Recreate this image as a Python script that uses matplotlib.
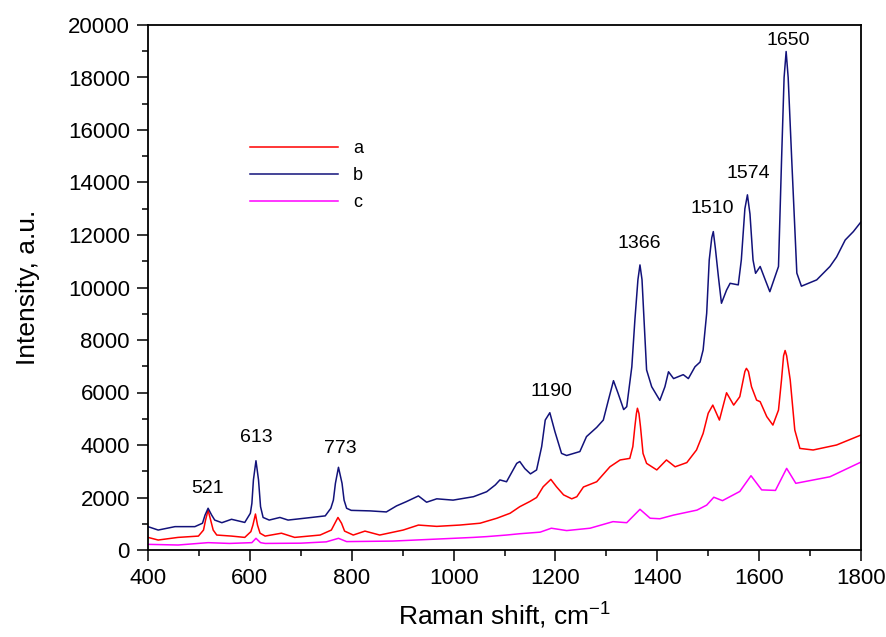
import matplotlib
matplotlib.use("Agg")
import matplotlib.pyplot as plt
from matplotlib.ticker import MultipleLocator

plt.rcParams['font.family'] = ['Liberation Sans', 'DejaVu Sans']
plt.rcParams['mathtext.fontset'] = 'custom'
plt.rcParams['mathtext.rm'] = 'Liberation Sans'

# (Raman shift, intensity)
spec_a = [(400, 480), (420, 380), (459, 480), (499, 530), (509, 760), (513, 1140),
          (518, 1520), (523, 1140), (528, 760), (535, 570), (564, 530), (590, 480),
          (602, 700), (606, 950), (611, 1370), (615, 950), (620, 640), (630, 530),
          (662, 640), (688, 480), (738, 570), (760, 760), (767, 1020), (773, 1240),
          (780, 1020), (786, 720), (803, 570), (826, 720), (855, 570), (901, 760),
          (931, 950), (967, 900), (1012, 950), (1052, 1020), (1085, 1210), (1111, 1400),
          (1130, 1650), (1150, 1850), (1163, 2000), (1176, 2410), (1191, 2690), (1202, 2410),
          (1216, 2100), (1232, 1950), (1242, 2030), (1255, 2400), (1281, 2600), (1307, 3170),
          (1327, 3430), (1346, 3490), (1352, 3940), (1356, 4700), (1359, 5200), (1361, 5400),
          (1364, 5200), (1367, 4700), (1372, 3680), (1379, 3300), (1399, 3050), (1418, 3430),
          (1435, 3170), (1458, 3330), (1477, 3810), (1490, 4440), (1500, 5210), (1509, 5520),
          (1522, 4950), (1536, 5990), (1550, 5520), (1562, 5840), (1572, 6800), (1575, 6920),
          (1579, 6800), (1585, 6220), (1595, 5710), (1602, 5650), (1615, 5080), (1627, 4760),
          (1638, 5330), (1644, 6500), (1648, 7400), (1651, 7600), (1654, 7400), (1661, 6480),
          (1670, 4570), (1680, 3870), (1706, 3810), (1752, 4000), (1800, 4380)]

spec_b = [(400, 890), (420, 760), (453, 890), (492, 890), (507, 1020), (512, 1330),
          (518, 1590), (525, 1330), (531, 1140), (545, 1040), (564, 1170), (590, 1050),
          (601, 1400), (604, 1780), (607, 2670), (612, 3400), (617, 2670), (621, 1650),
          (626, 1240), (638, 1140), (659, 1240), (675, 1140), (721, 1240), (748, 1300),
          (759, 1590), (764, 1900), (768, 2540), (774, 3150), (781, 2540), (785, 1900),
          (790, 1590), (799, 1510), (836, 1490), (868, 1450), (888, 1680), (907, 1840),
          (931, 2060), (947, 1820), (967, 1950), (999, 1900), (1039, 2030), (1065, 2220),
          (1082, 2480), (1091, 2670), (1104, 2600), (1124, 3300), (1130, 3370), (1140, 3100),
          (1151, 2900), (1163, 3050), (1173, 3940), (1180, 4950), (1189, 5230), (1199, 4510),
          (1212, 3680), (1222, 3600), (1248, 3750), (1261, 4320), (1281, 4670), (1294, 4950),
          (1304, 5710), (1314, 6450), (1323, 5970), (1334, 5350), (1340, 5460), (1350, 6980),
          (1356, 8760), (1362, 10300), (1366, 10860), (1370, 10300), (1374, 8760), (1379, 6860),
          (1389, 6220), (1405, 5700), (1415, 6220), (1422, 6790), (1432, 6530), (1451, 6680),
          (1461, 6530), (1474, 6980), (1484, 7160), (1490, 7620), (1497, 9020), (1502, 11050),
          (1507, 11900), (1510, 12130), (1514, 11500), (1520, 10410), (1526, 9400), (1536, 9900),
          (1543, 10160), (1559, 10100), (1565, 11050), (1572, 13000), (1577, 13530), (1582, 12800),
          (1588, 11050), (1593, 10540), (1602, 10800), (1612, 10290), (1621, 9840), (1638, 10800),
          (1644, 14860), (1649, 18000), (1653, 18990), (1657, 18000), (1664, 14860), (1674, 10550),
          (1683, 10050), (1713, 10290), (1739, 10800), (1752, 11160), (1769, 11810), (1785, 12130),
          (1800, 12500)]

spec_c = [(400, 215), (459, 190), (518, 280), (560, 250), (604, 280), (612, 445),
          (621, 280), (630, 250), (700, 260), (750, 310), (774, 445), (790, 320),
          (880, 340), (1000, 445), (1039, 480), (1065, 510), (1104, 570), (1130, 620),
          (1170, 680), (1192, 830), (1222, 740), (1268, 830), (1313, 1080), (1340, 1040),
          (1366, 1550), (1386, 1210), (1405, 1190), (1432, 1330), (1478, 1520), (1497, 1710),
          (1511, 2010), (1528, 1880), (1562, 2230), (1584, 2830), (1605, 2290), (1632, 2270),
          (1654, 3110), (1672, 2540), (1739, 2790), (1800, 3350)]

series_names = ['a', 'b', 'c']
series_colors = ['#ff0000', '#12127a', '#ff00ff']

peak_labels = ['521', '613', '773', '1190', '1366', '1510', '1574', '1650']
label_x = [517, 612, 778, 1193, 1365, 1507, 1579, 1657]
label_y = [2360, 4270, 3870, 6030, 11690, 13020, 14350, 19400]

fig = plt.figure(figsize=(8.87, 6.37), dpi=100)
ax = fig.add_axes([148/887, 1-550/637, 713/887, 525/637])

for spec, name, col in zip([spec_a, spec_b, spec_c], series_names, series_colors):
    xs, ys = zip(*spec)
    ax.plot(xs, ys, color=col, lw=1.1, label=name)

for txt, lx, ly in zip(peak_labels, label_x, label_y):
    ax.text(lx, ly, txt, ha='center', va='center', fontsize=14)

ax.set_xlim(400, 1800)
ax.set_ylim(0, 20000)
ax.xaxis.set_major_locator(MultipleLocator(200))
ax.xaxis.set_minor_locator(MultipleLocator(100))
ax.yaxis.set_major_locator(MultipleLocator(2000))
ax.yaxis.set_minor_locator(MultipleLocator(1000))
ax.tick_params(which='both', direction='out', width=1.1, labelsize=16, top=False, right=False)
ax.tick_params(which='major', length=8, pad=5)
ax.tick_params(which='minor', length=4)
for sp in ax.spines.values():
    sp.set_linewidth(1.3)

ax.set_xlabel('Raman shift, cm$^{-1}$', fontsize=19, labelpad=7)
ax.set_ylabel('Intensity, a.u.', fontsize=19, labelpad=20)

ax.legend(loc='upper left', bbox_to_anchor=(250/887, 1-140/637), bbox_transform=fig.transFigure,
          frameon=False, fontsize=13, handlelength=4.9, handletextpad=0.8,
          labelspacing=0.55, borderpad=0, borderaxespad=0)

fig.savefig('out.png', dpi=100)
